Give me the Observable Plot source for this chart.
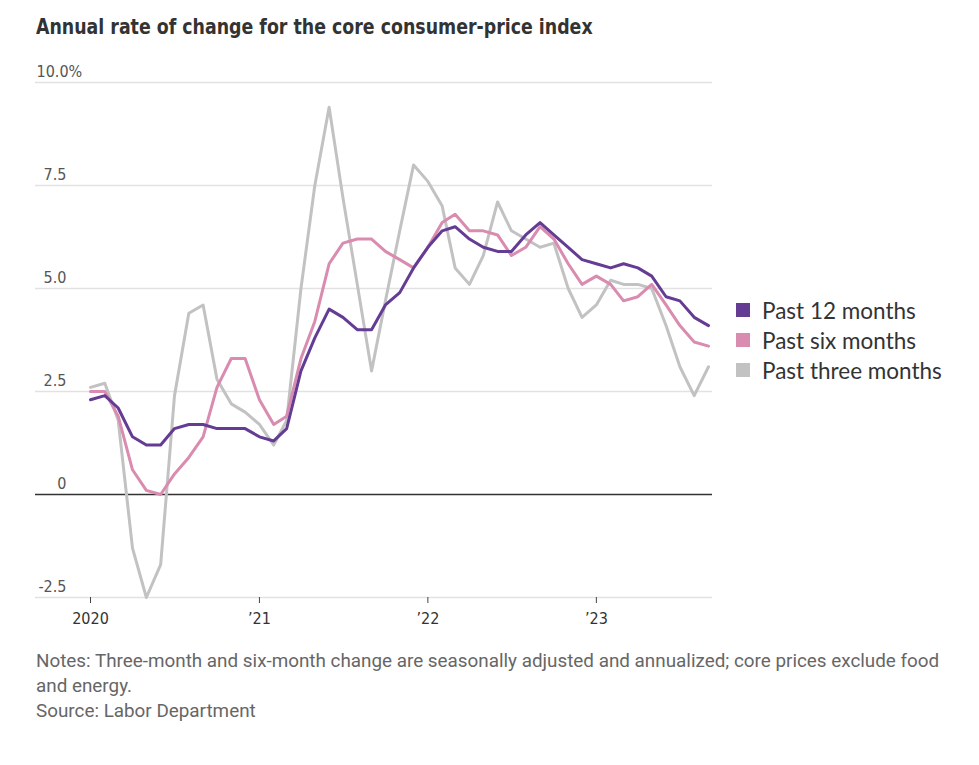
<!DOCTYPE html>
<html>
<head>
<meta charset="utf-8">
<script src="https://cdn.jsdelivr.net/npm/d3@7"></script>
<script src="https://cdn.jsdelivr.net/npm/@observablehq/plot@0.6"></script>
<style>
  body { margin: 0; background: #fff; }
  #wrap { position: relative; width: 979px; height: 765px; overflow: hidden; }
  #title { position: absolute; left: 36px; top: 15px; font: bold 21px "Liberation Sans Narrow", "DejaVu Sans Condensed", Roboto, sans-serif; color: #333; line-height: 24px; white-space: nowrap; transform: scaleX(0.92); transform-origin: left center; }
  #chart { position: absolute; left: 0; top: 50px; }
  #legend { position: absolute; left: 736px; top: 295px; font: 22.5px Lato, sans-serif; color: #333; }
  #legend .row { display: flex; align-items: center; height: 30px; white-space: nowrap; }
  #legend .sw { width: 14px; height: 14px; margin-right: 12px; }
  #notes { position: absolute; left: 36px; top: 649px; font: 18.85px Roboto, sans-serif; color: #666; line-height: 25px; white-space: nowrap; }
</style>
</head>
<body>
<div id="wrap">
  <div id="title">Annual rate of change for the core consumer-price index</div>
  <div id="chart"></div>
  <div id="legend"></div>
  <div id="notes">Notes: Three-month and six-month change are seasonally adjusted and annualized; core prices exclude food<br>and energy.<br>Source: Labor Department</div>
</div>
<script>
// Months: Jan 2020 .. Sep 2023
const monthLabels = [
  "2020-01","2020-02","2020-03","2020-04","2020-05","2020-06","2020-07","2020-08","2020-09","2020-10","2020-11","2020-12",
  "2021-01","2021-02","2021-03","2021-04","2021-05","2021-06","2021-07","2021-08","2021-09","2021-10","2021-11","2021-12",
  "2022-01","2022-02","2022-03","2022-04","2022-05","2022-06","2022-07","2022-08","2022-09","2022-10","2022-11","2022-12",
  "2023-01","2023-02","2023-03","2023-04","2023-05","2023-06","2023-07","2023-08","2023-09"
];
const past12 = [2.3,2.4,2.1,1.4,1.2,1.2,1.6,1.7,1.7,1.6,1.6,1.6,
                1.4,1.3,1.6,3.0,3.8,4.5,4.3,4.0,4.0,4.6,4.9,5.5,
                6.0,6.4,6.5,6.2,6.0,5.9,5.9,6.3,6.6,6.3,6.0,5.7,
                5.6,5.5,5.6,5.5,5.3,4.8,4.7,4.3,4.1];
const past6 = [2.5,2.5,1.9,0.6,0.1,0.0,0.5,0.9,1.4,2.6,3.3,3.3,
               2.3,1.7,1.9,3.3,4.2,5.6,6.1,6.2,6.2,5.9,5.7,5.5,
               6.0,6.6,6.8,6.4,6.4,6.3,5.8,6.0,6.5,6.2,5.6,5.1,
               5.3,5.1,4.7,4.8,5.1,4.6,4.1,3.7,3.6];
const past3 = [2.6,2.7,1.8,-1.3,-2.5,-1.7,2.4,4.4,4.6,2.8,2.2,2.0,
               1.7,1.2,1.8,5.0,7.5,9.4,7.2,5.1,3.0,4.7,6.4,8.0,
               7.6,7.0,5.5,5.1,5.8,7.1,6.4,6.2,6.0,6.1,5.0,4.3,
               4.6,5.2,5.1,5.1,5.0,4.1,3.1,2.4,3.1];
const seriesNames = ["Past 12 months", "Past six months", "Past three months"];
const seriesColors = ["#643c94", "#d98cb0", "#c2c2c2"];
const yTicks = [-2.5, 0, 2.5, 5, 7.5, 10];
const yTickLabels = ["-2.5", "0", "2.5", "5.0", "7.5", "10.0%"];
const xTickDates = ["2020-01", "2021-01", "2022-01", "2023-01"];
const xTickLabels = ["2020", "\u201921", "\u201922", "\u201923"];

const parse = d3.utcParse("%Y-%m");
const dates = monthLabels.map(parse);
const mk = (vals) => vals.map((v, i) => ({date: dates[i], value: v}));
const d12 = mk(past12), d6 = mk(past6), d3s = mk(past3);
const yTickData = yTicks.map((v, i) => ({v, label: yTickLabels[i]}));

const narrow = "'Liberation Sans Narrow', 'DejaVu Sans Condensed', Roboto, sans-serif";

const chart = Plot.plot({
  width: 979,
  height: 590,
  marginLeft: 35,
  marginRight: 267,
  marginTop: 32,
  marginBottom: 43,
  style: {fontFamily: narrow, background: "transparent"},
  x: {type: "utc", domain: [dates[0], dates[dates.length - 1]], insetLeft: 55, insetRight: 4},
  y: {domain: [-2.5, 10]},
  marks: [
    Plot.ruleY(yTicks.filter(d => d !== 0), {stroke: "#e2e2e2", strokeWidth: 1.5}),
    Plot.ruleY([0], {stroke: "#333", strokeWidth: 1.5}),
    Plot.text(yTickData.filter(d => d.v !== 10), {y: "v", text: "label", frameAnchor: "left", dx: 31, dy: -11, textAnchor: "end", fill: "#555", fontSize: 16}),
    Plot.text(yTickData.filter(d => d.v === 10), {y: "v", text: "label", frameAnchor: "left", dx: 1, dy: -11, textAnchor: "start", fill: "#555", fontSize: 16}),
    Plot.line(d3s, {x: "date", y: "value", stroke: seriesColors[2], strokeWidth: 3}),
    Plot.line(d6, {x: "date", y: "value", stroke: seriesColors[1], strokeWidth: 3}),
    Plot.line(d12, {x: "date", y: "value", stroke: seriesColors[0], strokeWidth: 3}),
    Plot.axisX(xTickDates.map(parse), {tickFormat: (d, i) => xTickLabels[i], tickSize: 6, tickPadding: 9, fontSize: 16, color: "#333", stroke: "#444", label: null}),
    Plot.axisY({ticks: [], label: null})
  ]
});
document.getElementById("chart").appendChild(chart);

const legend = document.getElementById("legend");
seriesNames.forEach((name, i) => {
  const row = document.createElement("div");
  row.className = "row";
  const sw = document.createElement("div");
  sw.className = "sw";
  sw.style.background = seriesColors[i];
  const t = document.createElement("span");
  t.textContent = name;
  row.appendChild(sw);
  row.appendChild(t);
  legend.appendChild(row);
});
</script>
</body>
</html>
